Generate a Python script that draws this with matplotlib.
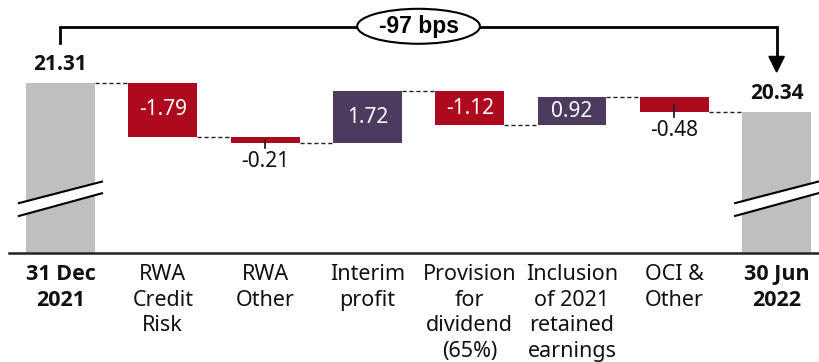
import matplotlib
matplotlib.use("Agg")
import matplotlib.pyplot as plt
from matplotlib.patches import Ellipse, Polygon
import numpy as np

plt.rcParams['font.family'] = ['Noto Sans', 'DejaVu Sans']
BOLD_FAMILY = ['Open Sans', 'Noto Sans', 'DejaVu Sans']

categories = ["31 Dec\n2021", "RWA\nCredit\nRisk", "RWA\nOther", "Interim\nprofit",
              "Provision\nfor\ndividend\n(65%)", "Inclusion\nof 2021\nretained\nearnings",
              "OCI &\nOther", "30 Jun\n2022"]
start_value = 21.31
end_value = 20.34
steps = [-1.79, -0.21, 1.72, -1.12, 0.92, -0.48]
change_label = "-97 bps"

GRAY = "#BFBFBF"
RED = "#AD0A1D"
PURPLE = "#4D3A5E"

fig = plt.figure(figsize=(8.2, 3.62), dpi=100)
ax = fig.add_axes([9/820, 109/362, 811/820, 253/362])
ymin, ymax = 15.62, 24.09
ax.set_ylim(ymin, ymax)
ax.set_xlim(-0.503, 7.424)
for s in ['top', 'left', 'right']:
    ax.spines[s].set_visible(False)
ax.spines['bottom'].set_linewidth(1.8)
ax.spines['bottom'].set_color('#222222')
ax.set_yticks([])
ax.set_xticks([])

w = 0.674
n = len(categories)
x = np.arange(n)

# totals
ax.bar(x[0], start_value - ymin, bottom=ymin, width=w, color=GRAY, zorder=2)
ax.bar(x[-1], end_value - ymin, bottom=ymin, width=w, color=GRAY, zorder=2)

levels = [start_value]
cur = start_value
for i, s in enumerate(steps):
    nxt = cur + s
    col = RED if s < 0 else PURPLE
    ax.bar(x[i + 1], s, bottom=cur, width=w, color=col, zorder=2)
    levels.append(nxt)
    cur = nxt

# connectors
for i in range(n - 1):
    lvl = levels[i] if i < len(levels) else end_value
    ax.plot([x[i] + w/2, x[i + 1] - w/2], [lvl, lvl], color='#222222', lw=1.0,
            ls=(0, (3, 2)), zorder=1)

# value labels
fs = 15
for i, s in enumerate(steps):
    xi = x[i + 1]
    top = levels[i]
    bot = levels[i + 1]
    mid = (top + bot) / 2
    height_px = abs(s) * 29.9
    label = f"{s:.2f}"
    if height_px > 25:
        ax.text(xi, mid, label, color='white', ha='center', va='center', fontsize=fs, zorder=4)
    else:
        lo = min(top, bot)
        ax.plot([xi, xi], [mid, lo - 0.17], color='#222222', lw=1.3, zorder=3)
        ax.annotate(label, (xi, lo), xytext=(0, -13.5), textcoords='offset points',
                    ha='center', va='center', fontsize=fs, color='#111111')

for xi, v in [(x[0], start_value), (x[-1], end_value)]:
    ax.annotate(f"{v:.2f}", (xi, v), xytext=(0, 13.5), textcoords='offset points',
                ha='center', va='center', fontsize=fs, fontweight='bold',
                family=BOLD_FAMILY, color='#111111')

# break marks
for xi in [x[0], x[-1]]:
    dx = 0.406
    up_l, up_r = 17.29, 18.01
    lo_l, lo_r = 16.86, 17.62
    poly = Polygon([[xi - dx, lo_l], [xi + dx, lo_r], [xi + dx, up_r], [xi - dx, up_l]],
                   closed=True, facecolor='white', edgecolor='none', zorder=3)
    ax.add_patch(poly)
    ax.plot([xi - dx, xi + dx], [up_l, up_r], color='black', lw=1.5, zorder=4)
    ax.plot([xi - dx, xi + dx], [lo_l, lo_r], color='black', lw=1.5, zorder=4)

# bracket
off = 1.34
top_y = start_value + 1.87
ax.plot([x[0], x[0], x[-1], x[-1]], [start_value + off, top_y, top_y, end_value + off + 0.5],
        color='black', lw=2.0, zorder=5, clip_on=False, solid_joinstyle='miter')
ax.add_patch(Polygon([[x[-1] - 0.075, end_value + off + 0.52], [x[-1] + 0.075, end_value + off + 0.52],
                      [x[-1], end_value + off]], closed=True, facecolor='black', edgecolor='black',
                     zorder=5, clip_on=False))
ax.add_patch(Ellipse(((x[0] + x[-1]) / 2, top_y + 0.03), 1.2, 1.17, facecolor='white',
                     edgecolor='black', lw=1.5, zorder=6, clip_on=False))
ax.text((x[0] + x[-1]) / 2, top_y + 0.03, change_label, ha='center', va='center',
        fontsize=16.5, fontweight='bold', family=['Liberation Sans', 'DejaVu Sans'], zorder=7)

# category labels
for i, c in enumerate(categories):
    bold = i in (0, n - 1)
    ax.annotate(c, (x[i], ymin), xytext=(0, -8), textcoords='offset points',
                ha='center', va='top', fontsize=15.5, linespacing=1.29,
                fontweight='bold' if bold else 'normal',
                family=BOLD_FAMILY if bold else ['Noto Sans', 'DejaVu Sans'],
                color='#111111', multialignment='center', annotation_clip=False)

fig.savefig("out.png", dpi=100)
